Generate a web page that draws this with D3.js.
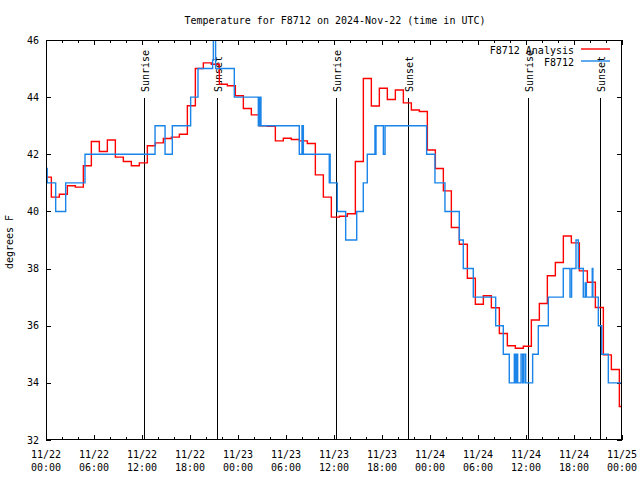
<!DOCTYPE html>
<html>
<head>
<meta charset="utf-8">
<script src="https://cdn.jsdelivr.net/npm/d3@7"></script>
<style>
  body { margin: 0; background: #fff; }
  svg { display: block; }
  text { font-family: "DejaVu Sans Mono", "Liberation Mono", monospace; font-size: 10px; fill: #000; }
</style>
</head>
<body>
<svg id="chart" width="640" height="480"></svg>
<script>
// ---- data ----
const titleText = "Temperature for F8712 on 2024-Nov-22 (time in UTC)";
const yLabelText = "degrees F";
const seriesNames = ["F8712 Analysis", "F8712"];

// x axis: hours since 2024-11-22 00:00 UTC
const tickHours = [0, 6, 12, 18, 24, 30, 36, 42, 48, 54, 60, 66, 72];
const tickDates = ["11/22", "11/22", "11/22", "11/22", "11/23", "11/23", "11/23", "11/23", "11/24", "11/24", "11/24", "11/24", "11/25"];
const tickTimes = ["00:00", "06:00", "12:00", "18:00", "00:00", "06:00", "12:00", "18:00", "00:00", "06:00", "12:00", "18:00", "00:00"];
const yTicks = [32, 34, 36, 38, 40, 42, 44, 46];

// sunrise / sunset (hours)
const sunHours = [12.29, 21.38, 36.29, 45.29, 60.29, 69.29];
const sunLabels = ["Sunrise", "Sunset", "Sunrise", "Sunset", "Sunrise", "Sunset"];

// F8712 Analysis: hourly values (hour 0 .. 72)
const analysisValues = [
  41.2, 40.5, 40.6, 40.9, 40.85, 41.6, 42.45, 42.1, 42.5, 41.9,
  41.75, 41.6, 41.7, 42.3, 42.4, 42.55, 42.6, 42.7, 43.7, 45.0,
  45.2, 45.15, 44.45, 44.4, 44.05, 43.6, 43.38, 43.0, 42.98, 42.47,
  42.56, 42.52, 42.47, 42.38, 41.28, 40.5, 39.8, 39.83, 39.92, 41.75,
  44.65, 43.69, 44.31, 43.92, 44.25, 43.8, 43.55, 43.5, 42.15, 41.5,
  40.72, 39.44, 38.85, 37.66, 36.75, 37.05, 36.63, 35.73, 35.3, 35.21,
  35.28, 36.2, 36.78, 37.75, 38.21, 39.14, 38.9, 37.92, 37.52, 36.64,
  34.98, 34.47, 33.17
];
const analysisOffset = 0.33; // each hourly value is shown from 20 min before the hour

// F8712 observations (hours, degF)
const obsHours = [0, 0.15, 1.21, 2.46, 4.875, 13.63, 14.88, 15.79, 18.08, 19.0,
  20.83, 20.92, 21.2, 23.54, 26.54, 26.62, 26.7, 26.78, 26.87, 31.66,
  32.0, 32.08, 32.12, 32.17, 35.41, 35.46, 35.52, 36.41, 37.46, 38.84,
  39.66, 40.16, 41.12, 41.17, 41.25, 42.17, 42.38, 47.58, 48.62, 49.87,
  51.66, 52.16, 53.41, 56.21, 57.16, 57.91, 58.54, 58.71, 58.83, 58.96,
  59.38, 59.58, 59.75, 59.96, 60.83, 61.54, 62.79, 64.66, 65.5, 65.7,
  66.25, 66.54, 67.16, 67.4, 67.55, 68.28, 68.36, 69.04, 69.46, 70.29];
const obsValues = [41.5, 41, 40, 41, 42, 43, 42, 43, 44, 45,
  45.3, 47, 45, 44, 43, 44, 43, 44, 43, 42,
  43, 42, 43, 42, 41, 42, 41, 40, 39, 40,
  41, 42, 43, 42, 43, 42, 43, 42, 41, 40,
  39, 38, 37, 36, 35, 34, 35, 34, 35, 34,
  35, 34, 35, 34, 35, 36, 37, 38, 37, 38,
  39, 38, 37, 37.5, 37, 38, 37, 36, 35, 34];

// ---- layout ----
const L = 46, R = 622, T = 40, B = 440;
const xDomainEnd = 72;
const svg = d3.select("#chart");
const x = d3.scaleLinear().domain([0, xDomainEnd]).range([L, R]);
const y = d3.scaleLinear().domain([32, 46]).range([B, T]);

const redColor = "#ff0000";
const blueColor = "#1a84e8";

// clip
svg.append("defs").append("clipPath").attr("id", "plotclip")
  .append("rect").attr("x", L).attr("y", T).attr("width", R - L).attr("height", B - T);

// title
svg.append("text").attr("x", (L + R) / 2 + 1).attr("y", 24).attr("text-anchor", "middle").text(titleText);

// y label
svg.append("text").attr("transform", "translate(13,242) rotate(-90)").attr("text-anchor", "middle").text(yLabelText);

// minor/major x ticks
const minorHours = d3.range(0, xDomainEnd + 0.001, 2);
const axisG = svg.append("g").attr("stroke", "#000").attr("stroke-width", 1).attr("shape-rendering", "crispEdges");
minorHours.forEach(h => {
  const major = h % 6 === 0;
  const len = major ? 5 : 3;
  const px = Math.round(x(h)) + 0.5;
  axisG.append("line").attr("x1", px).attr("x2", px).attr("y1", B).attr("y2", B - len);
  axisG.append("line").attr("x1", px).attr("x2", px).attr("y1", T).attr("y2", T + len);
});
yTicks.forEach(v => {
  const py = Math.round(y(v)) + 0.5;
  axisG.append("line").attr("x1", L).attr("x2", L + 5).attr("y1", py).attr("y2", py);
  axisG.append("line").attr("x1", R).attr("x2", R - 5).attr("y1", py).attr("y2", py);
});

// x tick labels
tickHours.forEach((h, i) => {
  svg.append("text").attr("x", x(h)).attr("y", 458).attr("text-anchor", "middle").text(tickDates[i]);
  svg.append("text").attr("x", x(h)).attr("y", 471).attr("text-anchor", "middle").text(tickTimes[i]);
});
// y tick labels
yTicks.forEach(v => {
  svg.append("text").attr("x", 39).attr("y", y(v)).attr("dy", "0.35em").attr("text-anchor", "end").text(v);
});

// sunrise/sunset lines
sunHours.forEach((h, i) => {
  const px = Math.round(x(h)) + 0.5;
  axisG.append("line").attr("x1", px).attr("x2", px).attr("y1", Math.round(y(44)) + 1).attr("y2", B);
  svg.append("text").attr("transform", `translate(${px + 0.5},92) rotate(-90)`)
    .attr("dy", "0.36em").attr("text-anchor", "start").text(sunLabels[i]);
});

// series
const analysisPts = analysisValues.map((v, i) => [Math.max(0, i - analysisOffset), v]);
analysisPts.push([xDomainEnd, analysisValues[analysisValues.length - 1]]);
const obsPts = obsHours.map((h, i) => [h, obsValues[i]]);
obsPts.push([xDomainEnd, obsValues[obsValues.length - 1]]);

const line = d3.line().x(d => x(d[0])).y(d => y(d[1])).curve(d3.curveStepAfter);
const plotG = svg.append("g").attr("clip-path", "url(#plotclip)");
plotG.append("path").datum(analysisPts).attr("d", line).attr("fill", "none")
  .attr("stroke", redColor).attr("stroke-width", 1.4);
plotG.append("path").datum(obsPts).attr("d", line).attr("fill", "none")
  .attr("stroke", blueColor).attr("stroke-width", 1.4);

// frame
svg.append("rect").attr("x", L + 0.5).attr("y", T + 0.5).attr("width", R - L - 1).attr("height", B - T - 1)
  .attr("fill", "none").attr("stroke", "#000").attr("stroke-width", 1).attr("shape-rendering", "crispEdges");

// legend
const legY = [50, 62];
const legColors = [redColor, blueColor];
seriesNames.forEach((name, i) => {
  svg.append("text").attr("x", 574).attr("y", legY[i]).attr("dy", "0.35em").attr("text-anchor", "end").text(name);
  svg.append("line").attr("x1", 581).attr("x2", 610).attr("y1", legY[i] - 1).attr("y2", legY[i] - 1)
    .attr("stroke", legColors[i]).attr("stroke-width", 1.4);
});
</script>
</body>
</html>
